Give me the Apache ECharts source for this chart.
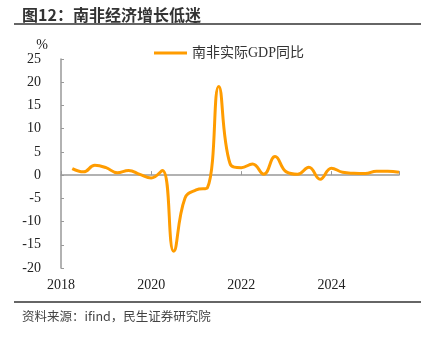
<!DOCTYPE html>
<html><head><meta charset="utf-8">
<script src="https://cdn.jsdelivr.net/npm/echarts@6/dist/echarts.min.js"></script>
<style>
html,body{margin:0;padding:0;background:#fff;}
#wrap{position:relative;width:429px;height:337px;overflow:hidden;font-family:"Noto Sans CJK SC",sans-serif;}
#title{position:absolute;left:22px;top:2px;font-size:16px;font-weight:bold;color:#333;letter-spacing:0px;}
#tline{position:absolute;left:14px;top:23px;width:407px;height:2px;background:#666;}
#bline{position:absolute;left:14px;top:301px;width:407px;height:2px;background:#666;}
#src{position:absolute;left:22px;top:306px;font-size:12.5px;color:#444;}
#chart{position:absolute;left:0;top:0;width:429px;height:337px;}
</style></head>
<body><div id="wrap">
<div id="chart"></div>
<div id="title">图12：南非经济增长低迷</div>
<div id="tline"></div>
<div id="bline"></div>
<div id="src">资料来源：ifind，民生证券研究院</div>
</div>
<script>
const seriesName = "南非实际GDP同比";
const quarters = ["2018Q1","2018Q2","2018Q3","2018Q4","2019Q1","2019Q2","2019Q3","2019Q4",
  "2020Q1","2020Q2","2020Q3","2020Q4","2021Q1","2021Q2","2021Q3","2021Q4",
  "2022Q1","2022Q2","2022Q3","2022Q4","2023Q1","2023Q2","2023Q3","2023Q4",
  "2024Q1","2024Q2","2024Q3","2024Q4","2025Q1","2025Q2"];
const gdpYoy = [1.4,0.7,2.1,1.6,0.5,1.0,0.15,-0.6,
  1.0,-16.4,-5.0,-3.2,-2.7,19.1,2.5,1.6,
  2.4,0.2,4.0,0.7,0.2,1.7,-0.9,1.5,
  0.6,0.4,0.35,0.85,0.85,0.6];
const yTicks = [-20,-15,-10,-5,0,5,10,15,20,25];
const xTickYears = [2018,2020,2022,2024];

const data = quarters.map((q,i)=>{
  const y = parseInt(q.slice(0,4)); const k = parseInt(q.slice(5));
  return [y + k/4, gdpYoy[i]];
});

const chart = echarts.init(document.getElementById('chart'), null, {renderer:'canvas'});
const serif = "Liberation Serif";
chart.setOption({
  animation:false,
  grid:{left:61,right:30,top:59,bottom:69},
  legend:{top:41,left:149,itemWidth:33,itemHeight:3,itemGap:5,
    icon:'rect',
    textStyle:{fontSize:14,color:'#333',fontFamily:"'Liberation Serif','Noto Sans CJK SC',serif"},
    data:[seriesName]},
  xAxis:[{
    type:'value',min:2018,max:2025.5,interval:2,
    axisLine:{show:false,onZero:false},axisTick:{show:false},splitLine:{show:false},
    axisLabel:{showMaxLabel:false,fontSize:14,color:'#222',fontFamily:serif,margin:10,
      formatter:v=>xTickYears.includes(Math.round(v))?String(Math.round(v)):''}
  },{
    type:'value',min:2018,max:2025.5,interval:2,position:'bottom',
    axisLine:{show:true,onZero:true,lineStyle:{color:'#999',width:1.5}},
    axisTick:{show:true,inside:true,length:4,lineStyle:{color:'#999'}},
    axisLabel:{show:false},splitLine:{show:false}
  }],
  yAxis:{type:'value',min:yTicks[0],max:yTicks[yTicks.length-1],interval:5,
    name:'%',nameGap:6,nameTextStyle:{fontSize:14,color:'#222',fontFamily:serif,padding:[0,38,0,0]},
    axisLine:{show:true,lineStyle:{color:'#999',width:1.5}},
    axisTick:{show:true,inside:true,length:3,lineStyle:{color:'#999'}},
    splitLine:{show:false},
    axisLabel:{fontSize:14,color:'#222',fontFamily:serif,margin:20}},
  series:[{
    name:seriesName,type:'line',xAxisIndex:0,data:data,smooth:0.45,
    showSymbol:false,symbol:'none',
    lineStyle:{color:'#FF9C00',width:3},itemStyle:{color:'#FF9C00'}
  }]
});
</script>
</body></html>
